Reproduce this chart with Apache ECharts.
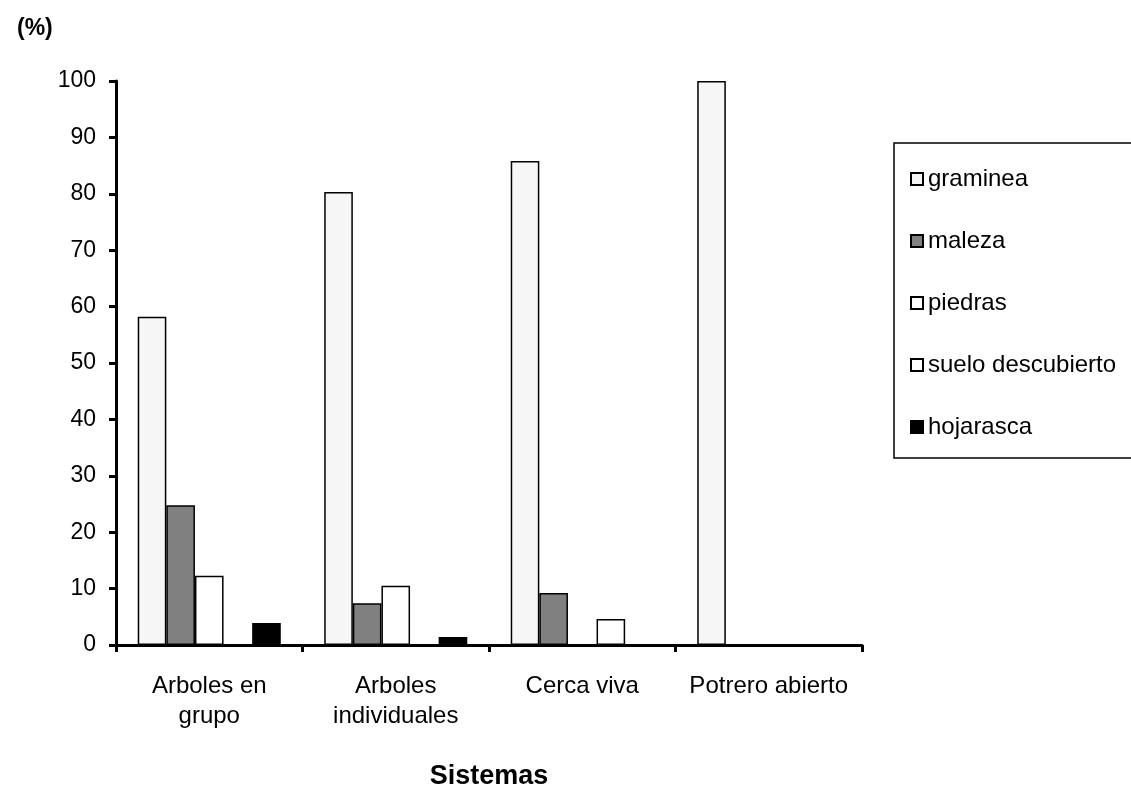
<!DOCTYPE html>
<html>
<head>
<meta charset="utf-8">
<script src="https://cdn.jsdelivr.net/npm/echarts@6/dist/echarts.min.js"></script>
<style>
  html, body { margin: 0; padding: 0; background: #fff; }
  #chart { width: 1131px; height: 789px; }
</style>
</head>
<body>
<div id="chart"></div>
<script>
// Ground cover (%) by silvopastoral system
const categories = ['Arboles en\ngrupo', 'Arboles\nindividuales', 'Cerca viva', 'Potrero abierto'];
const graminea = [58.2, 80.3, 85.8, 100];
const maleza = [24.8, 7.4, 9.2, 0];
const piedras = [12.3, 10.5, 0, 0];
const sueloDescubierto = [0, 0, 4.6, 0];
const hojarasca = [3.9, 1.4, 0, 0];
const yTicks = [0, 10, 20, 30, 40, 50, 60, 70, 80, 90, 100];

const font = 'Liberation Sans, Arial, sans-serif';

function bar(name, data, fill) {
  return {
    name: name,
    type: 'bar',
    data: data,
    barGap: 0,
    barCategoryGap: '23.3%',
    itemStyle: { color: fill, borderColor: '#000', borderWidth: 1.5 },
    emphasis: { disabled: true }
  };
}

const chart = echarts.init(document.getElementById('chart'));
chart.setOption({
  animation: false,
  backgroundColor: '#fff',
  title: {
    text: '(%)',
    left: 12, top: 12,
    textStyle: { fontFamily: font, fontSize: 23, fontWeight: 'bold', color: '#000' }
  },
  grid: {
    left: 116, right: 269, top: 81, bottom: 144,
    containLabel: false,
    outerBoundsMode: 'none'
  },
  legend: {
    orient: 'vertical',
    left: 894, top: 143,
    padding: [22, 40, 17, 16],
    itemGap: 34,
    itemWidth: 12, itemHeight: 12,
    icon: 'rect',
    borderColor: '#000', borderWidth: 1.5,
    textStyle: { fontFamily: font, fontSize: 24, lineHeight: 28, color: '#000' },
    data: ['graminea', 'maleza', 'piedras', 'suelo descubierto', 'hojarasca']
  },
  xAxis: {
    type: 'category',
    data: categories,
    name: 'Sistemas',
    nameLocation: 'middle',
    nameGap: 118,
    nameTextStyle: { fontFamily: font, fontSize: 27, fontWeight: 'bold', color: '#000' },
    axisLine: { lineStyle: { color: '#000', width: 3 } },
    axisTick: { show: true, interval: 0, length: 7, lineStyle: { color: '#000', width: 3 } },
    axisLabel: { interval: 0, fontFamily: font, fontSize: 24, color: '#000', margin: 26, lineHeight: 30 },
    splitLine: { show: false }
  },
  yAxis: {
    type: 'value',
    min: yTicks[0], max: yTicks[yTicks.length - 1], interval: 10,
    axisLine: { show: true, lineStyle: { color: '#000', width: 3 } },
    axisTick: { show: true, length: 7, lineStyle: { color: '#000', width: 3 } },
    axisLabel: { fontFamily: font, fontSize: 23, color: '#000', margin: 20 },
    splitLine: { show: false }
  },
  series: [
    bar('graminea', graminea, '#f6f6f6'),
    bar('maleza', maleza, '#808080'),
    bar('piedras', piedras, '#ffffff'),
    bar('suelo descubierto', sueloDescubierto, '#ffffff'),
    bar('hojarasca', hojarasca, '#000000')
  ]
});
</script>
</body>
</html>
